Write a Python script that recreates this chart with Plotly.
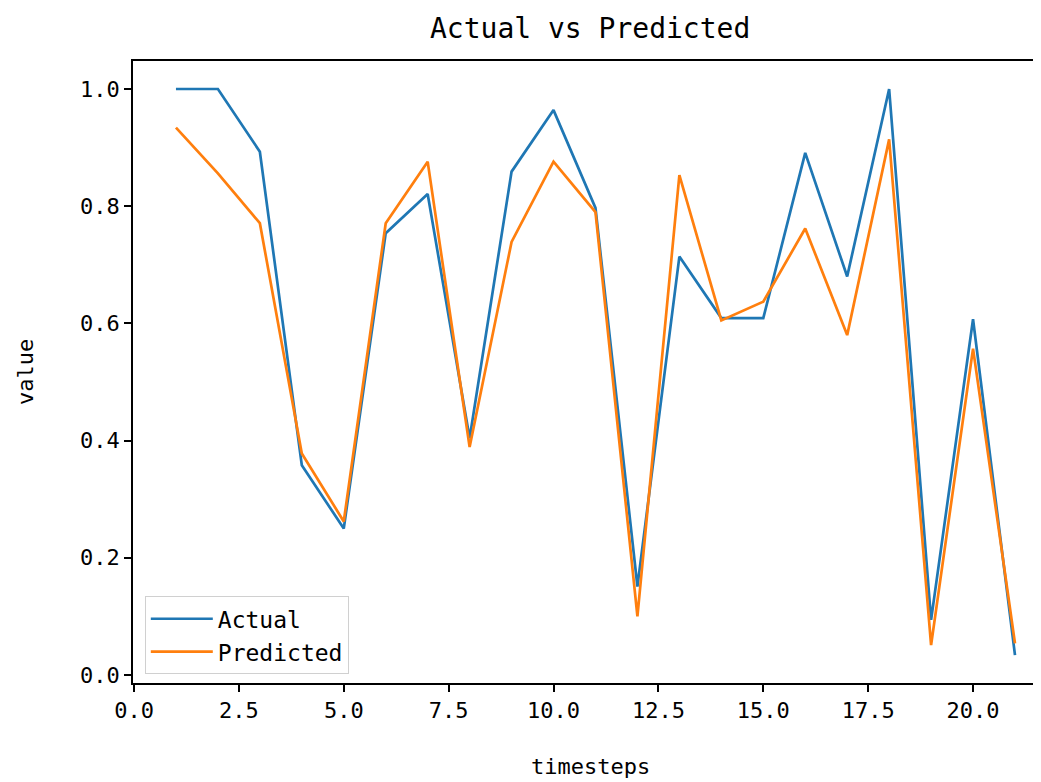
import plotly.graph_objects as go

timesteps = list(range(1, 22))
actual = [1.0, 1.0, 0.893, 0.358, 0.250, 0.754, 0.821, 0.404, 0.859, 0.964, 0.797,
          0.151, 0.714, 0.609, 0.609, 0.891, 0.680, 1.0, 0.094, 0.607, 0.034]
predicted = [0.934, 0.856, 0.771, 0.378, 0.262, 0.771, 0.876, 0.389, 0.739, 0.876, 0.790,
             0.100, 0.853, 0.605, 0.637, 0.762, 0.580, 0.914, 0.051, 0.557, 0.054]
x_ticks = [0.0, 2.5, 5.0, 7.5, 10.0, 12.5, 15.0, 17.5, 20.0]
y_ticks = [0.0, 0.2, 0.4, 0.6, 0.8, 1.0]

FONT = "DejaVu Sans Mono"

fig = go.Figure()
fig.add_trace(go.Scatter(x=timesteps, y=actual, mode="lines", name="Actual",
                         line=dict(color="#1f77b4", width=2.7)))
fig.add_trace(go.Scatter(x=timesteps, y=predicted, mode="lines", name="Predicted",
                         line=dict(color="#ff7f0e", width=2.7)))

fig.update_layout(
    width=1033, height=774,
    margin=dict(l=125, r=0, t=53, b=99),
    paper_bgcolor="white", plot_bgcolor="white",
    font=dict(family=FONT, color="black", size=22),
    showlegend=True,
    legend=dict(x=0.013, y=0.014, xanchor="left", yanchor="bottom",
                bgcolor="rgba(255,255,255,0.8)", bordercolor="#d0d0d0", borderwidth=1,
                font=dict(family=FONT, size=23, color="black"),
                itemwidth=62, tracegroupgap=4),
    annotations=[
        dict(text="Actual vs Predicted", xref="paper", yref="paper", x=0.503, y=1,
             yshift=33, xanchor="center", yanchor="middle", showarrow=False,
             font=dict(family=FONT, size=28, color="black")),
        dict(text="timesteps", xref="paper", yref="paper", x=0.504, y=0,
             yshift=-83, xanchor="center", yanchor="middle", showarrow=False,
             font=dict(family=FONT, size=22, color="black")),
        dict(text="value", xref="paper", yref="paper", x=0, y=0.5,
             xshift=-108, xanchor="center", yanchor="middle", showarrow=False,
             textangle=-90, font=dict(family=FONT, size=22, color="black")),
    ],
)
fig.update_xaxes(range=[-0.024, 21.62], tickmode="array", tickvals=x_ticks,
                 ticktext=[f"{v:.1f}" for v in x_ticks],
                 showgrid=False, zeroline=False, showline=True, linecolor="black",
                 linewidth=1.8, mirror=True, ticks="outside", ticklen=7, tickwidth=1.5,
                 tickcolor="black", tickfont=dict(family=FONT, size=22, color="black"))
fig.update_yaxes(range=[-0.0137, 1.0478], tickmode="array", tickvals=y_ticks,
                 ticktext=[f"{v:.1f}" for v in y_ticks],
                 showgrid=False, zeroline=False, showline=True, linecolor="black",
                 linewidth=1.8, mirror=False, ticks="outside", ticklen=7, tickwidth=1.5,
                 tickcolor="black", tickfont=dict(family=FONT, size=22, color="black"))

fig.write_html("out.html")
